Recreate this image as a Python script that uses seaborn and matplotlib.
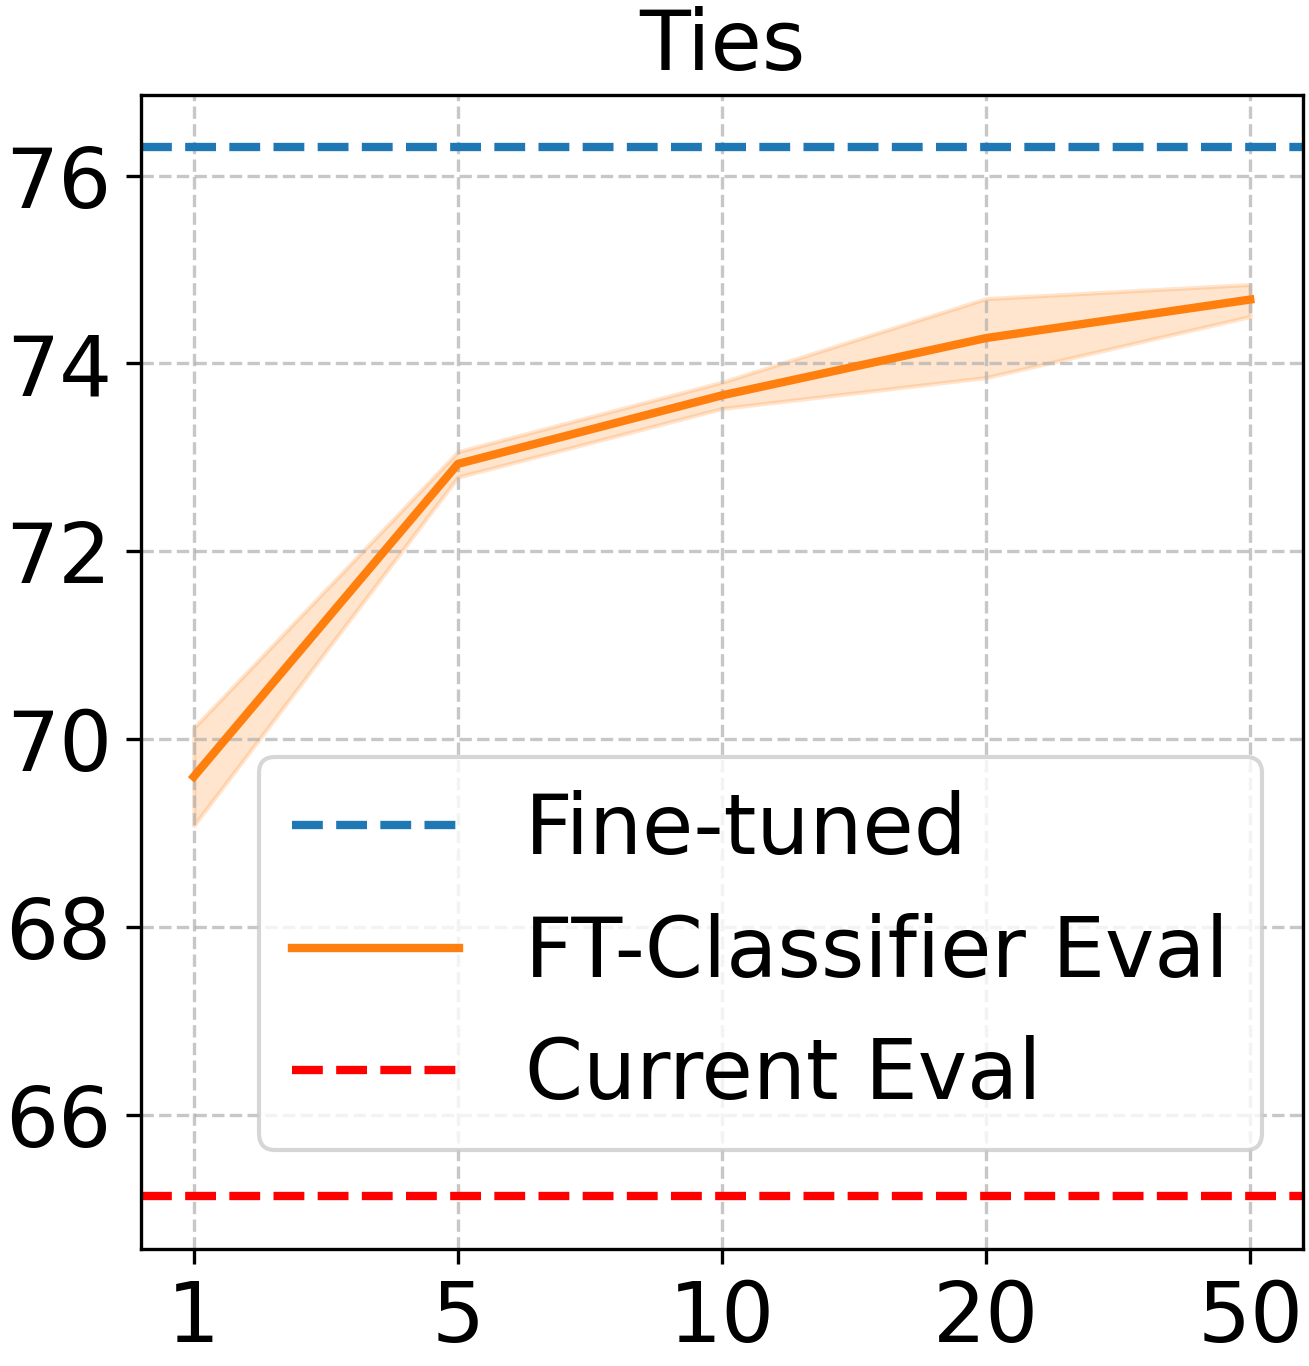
import matplotlib
matplotlib.use("Agg")
import numpy as np
import pandas as pd
import matplotlib.pyplot as plt
import seaborn as sns

# Werte
k_labels = ["1", "5", "10", "20", "50"]
ft_mean = [69.60, 72.93, 73.66, 74.27, 74.68]
ft_low = [69.08, 72.79, 73.52, 73.85, 74.50]
ft_high = [70.12, 73.06, 73.80, 74.69, 74.84]
fine_tuned = 76.30
current_eval = 65.13

df = pd.DataFrame({"pos": np.arange(len(k_labels)), "acc": ft_mean})

plt.rcParams["font.family"] = ["DejaVu Sans"]

fig, ax = plt.subplots(figsize=(1310 / 300, 1366 / 300), dpi=300)
fig.subplots_adjust(left=0.1076, right=0.9947, top=0.9305, bottom=0.0857)

ax.axhline(fine_tuned, color="#1f77b4", linestyle="--", linewidth=2, label="Fine-tuned")
sns.lineplot(data=df, x="pos", y="acc", color="#ff7f0e", linewidth=2,
             label="FT-Classifier Eval", ax=ax)
ax.fill_between(df["pos"], ft_low, ft_high, color="#ff7f0e", alpha=0.2)
ax.axhline(current_eval, color="red", linestyle="--", linewidth=2, label="Current Eval")

ax.set_xticks(df["pos"])
ax.set_xticklabels(k_labels)
ax.set_yticks([66, 68, 70, 72, 74, 76])
ax.tick_params(axis="both", labelsize=20)
ax.set_xlabel("")
ax.set_ylabel("")
ax.set_title("Ties", fontsize=20)
ax.grid(True, linestyle="--", alpha=0.7)

ax.legend(fontsize=20, loc="lower right", bbox_to_anchor=(0.965, 0.086),
          borderaxespad=0)

fig.savefig("out.png", dpi=300)
